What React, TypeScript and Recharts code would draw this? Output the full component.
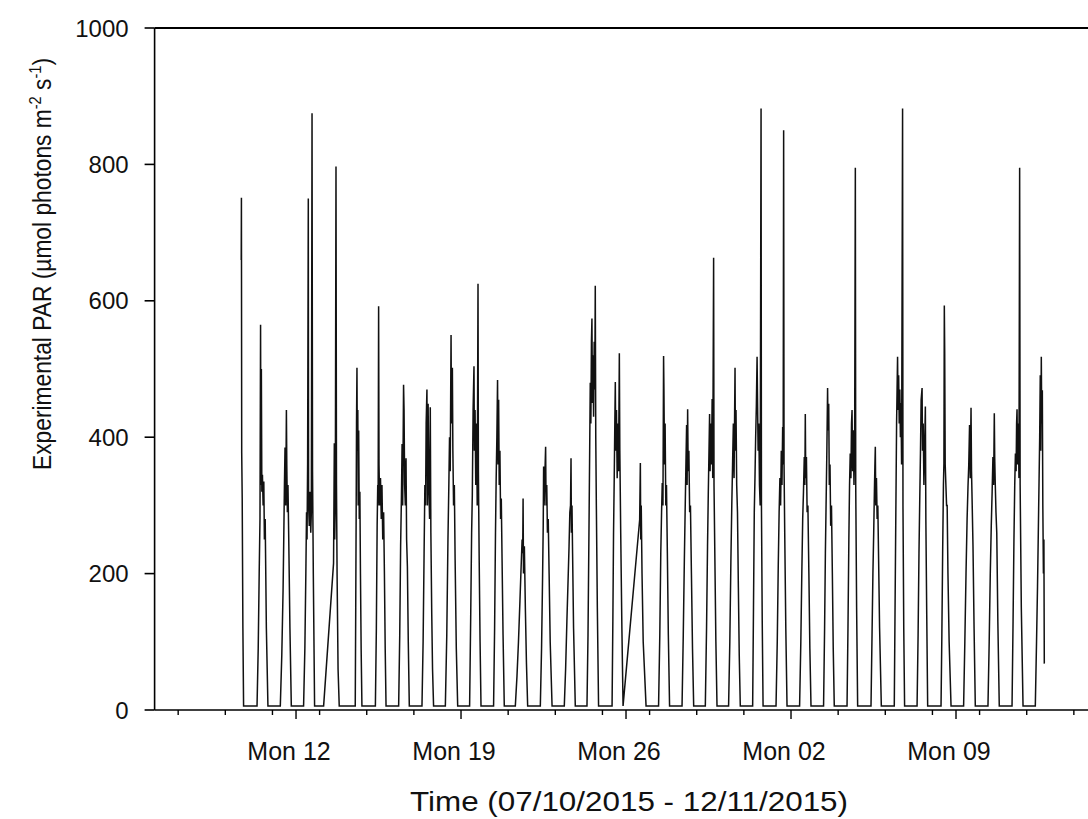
import { LineChart, Line, XAxis, YAxis, ReferenceLine, Label } from "recharts";

// [hour of day (UTC), PAR] readings, one list per day
type Reading = [number, number];

const seriesStart = "2015-10-09";
const axisStart = "2015-10-06T00:00:00Z";
const axisEnd = "2015-11-14T14:24:00Z";

// Oct 09 - Oct 15
const week1: Reading[][] = [
  [[16.2, 660], [16.4, 751], [16.7, 377], [17.2, 311], [17.9, 120], [18.6, 6]],
  [[8.3, 6], [9.5, 90], [10.5, 200], [11.3, 280], [11.9, 565], [12.3, 330], [12.7, 500], [13.2, 320], [13.8, 345], [14.5, 300], [15.2, 335], [15.8, 250], [16.6, 280], [17.8, 120], [19.4, 6]],
  [[8.0, 6], [9.5, 80], [10.8, 175], [11.5, 250], [12.2, 330], [12.8, 385], [13.5, 300], [14.2, 440], [14.6, 360], [15.2, 290], [15.8, 330], [16.6, 250], [17.8, 120], [19.2, 6]],
  [[7.7, 6], [9, 90], [10, 200], [10.7, 290], [11.2, 250], [11.8, 360], [12.5, 750], [12.8, 300], [13.5, 270], [14.2, 320], [15, 260], [15.6, 290], [16.3, 875], [16.8, 350], [17.6, 200], [18.9, 6]],
  [[4.1, 6], [14.2, 215], [14.6, 300], [15.0, 391], [15.4, 250], [16, 300], [16.7, 797], [17.2, 330], [17.8, 200], [18.8, 60], [20.0, 6]],
  [[12.3, 6], [12.8, 150], [13.2, 280], [13.6, 420], [14.05, 502], [14.4, 380], [14.9, 440], [15.3, 300], [15.8, 410], [16.4, 280], [17.0, 320], [17.6, 200], [18.3, 90], [19.1, 6]],
  [[8.8, 6], [9.8, 120], [10.6, 270], [11.2, 330], [11.6, 300], [12.1, 592], [12.5, 360], [13.2, 300], [14, 340], [14.8, 280], [15.5, 330], [16.3, 250], [17.2, 290], [18, 200], [18.8, 90], [19.65, 6]],
];

// Oct 16 - Oct 22
const week2: Reading[][] = [
  [[8.5, 6], [9.6, 110], [10.5, 240], [11.3, 310], [12, 390], [12.6, 300], [13.5, 477], [14, 440], [14.6, 330], [15.3, 300], [16, 369], [16.6, 250], [17.4, 210], [18.3, 100], [19.35, 6]],
  [[8.25, 6], [9.4, 100], [10.4, 230], [11.2, 330], [11.9, 300], [12.5, 420], [13.3, 470], [13.8, 300], [14.5, 449], [15.2, 330], [16, 280], [16.7, 444], [17.3, 260], [18.2, 140], [19, 60], [20.05, 6]],
  [[8.05, 6], [9.5, 110], [10.7, 250], [11.6, 330], [12.3, 400], [13, 350], [13.85, 550], [14.3, 420], [15.2, 502], [15.7, 380], [16.4, 300], [17.2, 330], [18, 220], [19.2, 90], [20.6, 6]],
  [[8.75, 6], [9.8, 130], [10.8, 260], [11.5, 315], [12.3, 440], [13.2, 504], [13.6, 380], [14.3, 440], [15, 330], [15.8, 420], [16.5, 300], [17.3, 625], [17.7, 350], [18.5, 220], [19.4, 100], [20.35, 6]],
  [[9.15, 6], [10.2, 120], [11.1, 260], [11.8, 340], [12.5, 400], [13.2, 484], [13.7, 360], [14.3, 455], [14.9, 330], [15.6, 380], [16.3, 280], [17, 310], [17.8, 220], [18.8, 110], [20.05, 6]],
  [[7.3, 6], [9, 50], [10.5, 100], [12, 160], [13.2, 210], [14.2, 250], [14.8, 230], [15.2, 310], [15.6, 200], [16.5, 240], [17.5, 150], [18.6, 70], [19.85, 6]],
  [[8.75, 6], [10, 90], [11, 190], [11.7, 270], [12.1, 357], [12.6, 300], [13.3, 340], [14.15, 386], [14.6, 300], [15.3, 330], [16, 260], [16.8, 280], [17.7, 200], [18.8, 100], [20.7, 6]],
];

// Oct 23 - Oct 29
const week3: Reading[][] = [
  [[9.15, 6], [10.5, 60], [11.8, 130], [13, 190], [14, 240], [14.8, 290], [15.5, 300], [16, 369], [16.4, 260], [17, 300], [17.6, 230], [18.6, 120], [20.35, 6]],
  [[8.25, 6], [9.3, 110], [10.2, 250], [11, 380], [11.6, 480], [12.2, 420], [12.8, 540], [13.3, 574], [13.8, 450], [14.4, 520], [15, 430], [15.6, 540], [16.2, 470], [16.7, 622], [17.2, 400], [17.8, 300], [18.8, 150], [20.05, 6]],
  [[9.8, 6], [10.6, 130], [11.3, 260], [12, 340], [12.6, 420], [13.1, 481], [13.6, 380], [14.3, 440], [15, 340], [15.7, 420], [16.4, 350], [17.2, 523], [17.7, 380], [18.6, 260], [19.8, 120], [21, 6]],
  [[13.9, 279], [14.6, 362], [15, 250], [15.5, 300], [16.3, 200], [17.5, 100], [20.4, 6]],
  [[9.15, 6], [10.4, 110], [11.4, 230], [12.2, 290], [12.9, 333], [13.6, 300], [14.25, 519], [14.6, 471], [15.2, 360], [15.8, 420], [16.5, 300], [17.2, 330], [18.1, 230], [19.1, 110], [20.35, 6]],
  [[9.05, 6], [10.3, 110], [11.4, 220], [12.3, 300], [13, 360], [13.7, 418], [14.2, 330], [14.75, 441], [15.3, 350], [16, 380], [16.8, 290], [17.6, 300], [18.6, 200], [19.7, 90], [20.9, 6]],
  [[8.75, 6], [10, 120], [11, 240], [11.8, 320], [12.5, 380], [13.1, 434], [13.6, 350], [14.3, 420], [15, 360], [15.7, 456], [16.3, 340], [17.2, 663], [17.6, 330], [18.5, 220], [19.5, 100], [20.65, 6]],
];

// Oct 30 - Nov 05
const week4: Reading[][] = [
  [[8.45, 6], [9.7, 100], [10.8, 220], [11.7, 300], [12.5, 360], [13.3, 420], [14, 340], [15, 502], [15.4, 380], [16, 440], [16.7, 330], [17.5, 290], [18.4, 180], [19.3, 80], [20.35, 6]],
  [[8.95, 6], [9.8, 150], [10.6, 290], [11.3, 340], [12, 400], [12.7, 445], [13.45, 518], [13.8, 470], [14.5, 380], [15.2, 420], [15.9, 330], [16.6, 300], [17.5, 882], [17.9, 300], [18.7, 130], [19.55, 6]],
  [[8.75, 6], [10, 100], [11, 210], [11.9, 290], [12.7, 340], [13.4, 300], [14.1, 380], [14.8, 330], [15.5, 415], [16, 360], [16.5, 850], [16.9, 360], [17.6, 260], [18.7, 120], [19.95, 6]],
  [[8.75, 6], [10, 100], [11, 200], [11.9, 280], [12.7, 320], [13.5, 371], [14.1, 330], [14.55, 434], [15, 340], [15.7, 371], [16.4, 290], [17.2, 300], [18.2, 200], [19.2, 90], [20.35, 6]],
  [[9.15, 6], [10.2, 120], [11, 230], [11.8, 310], [12.5, 380], [13.25, 472], [13.7, 410], [14.4, 449], [15, 330], [15.7, 360], [16.4, 270], [17.2, 300], [18.1, 200], [19, 90], [20.05, 6]],
  [[9.05, 6], [10, 120], [10.9, 250], [11.6, 330], [12.3, 376], [13, 340], [13.6, 420], [14.15, 440], [14.7, 350], [15.4, 410], [16.1, 330], [16.8, 390], [17.5, 795], [17.9, 330], [18.8, 150], [19.85, 6]],
  [[9.45, 6], [10.5, 110], [11.4, 200], [12.2, 260], [12.9, 320], [13.4, 357], [13.85, 386], [14.3, 300], [15, 340], [15.7, 280], [16.4, 300], [17.2, 220], [18.2, 120], [19.95, 6]],
];

// Nov 06 - Nov 12
const week5: Reading[][] = [
  [[9.15, 6], [10, 160], [10.8, 300], [11.5, 420], [12, 470], [12.5, 518], [13, 440], [13.6, 491], [14.2, 420], [14.8, 470], [15.4, 400], [16, 450], [16.6, 360], [17.6, 882], [18, 300], [18.8, 120], [19.65, 6]],
  [[8.35, 6], [9.4, 110], [10.3, 230], [11.1, 310], [11.8, 376], [12.5, 455], [13.45, 472], [13.9, 380], [14.6, 420], [15.3, 330], [16, 380], [16.8, 445], [17.3, 280], [18.2, 140], [19.15, 6]],
  [[8.75, 6], [9.6, 110], [10.4, 230], [11.2, 330], [11.7, 362], [12.1, 593], [12.5, 523], [13, 360], [13.7, 330], [14.4, 300], [15, 300], [15.8, 200], [17, 100], [18.95, 6]],
  [[7.75, 6], [9, 100], [10.2, 200], [11.3, 280], [12.2, 327], [13, 360], [13.8, 418], [14.5, 340], [15.3, 443], [15.8, 350], [16.5, 300], [17.3, 240], [18.4, 120], [19.65, 6]],
  [[8.55, 6], [9.8, 100], [10.9, 200], [11.9, 270], [12.8, 320], [13.6, 371], [14.3, 330], [15, 435], [15.4, 371], [16, 330], [16.7, 290], [17.5, 260], [18.6, 130], [20.05, 6]],
  [[9.05, 6], [10.1, 130], [11, 250], [11.8, 330], [12.5, 376], [13.2, 350], [13.7, 420], [14.15, 441], [14.7, 360], [15.4, 420], [16.1, 340], [16.8, 795], [17.3, 330], [18.5, 150], [20.25, 6]],
  [[8.75, 6], [10, 100], [11, 181], [11.8, 260], [12.5, 330], [13.2, 400], [13.8, 491], [14.3, 380], [14.85, 518], [15.3, 420], [15.9, 469], [16.4, 300], [17, 200], [17.5, 250], [17.9, 68]],
];

const majorTickDates = ["2015-10-12", "2015-10-19", "2015-10-26", "2015-11-02", "2015-11-09"];
const minorTickDates = [
  "2015-10-07", "2015-10-09", "2015-10-11", "2015-10-13", "2015-10-15", "2015-10-17", "2015-10-19",
  "2015-10-21", "2015-10-23", "2015-10-25", "2015-10-27", "2015-10-29", "2015-10-31", "2015-11-02",
  "2015-11-04", "2015-11-06", "2015-11-08", "2015-11-10", "2015-11-12", "2015-11-14",
];
const yTicks = [0, 200, 400, 600, 800, 1000];

const FONT = "'Liberation Sans', Arial, Helvetica, sans-serif";
const DAY = 86400000;
const HOUR = 3600000;
const toMs = (d: string) => Date.parse(d.length === 10 ? d + "T00:00:00Z" : d);

const t0 = toMs(seriesStart);
const data = [week1, week2, week3, week4, week5]
  .flat()
  .flatMap((day, i) => day.map(([h, v]) => ({ t: t0 + i * DAY + h * HOUR, par: v })));

const majors = new Set(majorTickDates.map(toMs));
const xTicks = Array.from(new Set([...majorTickDates, ...minorTickDates].map(toMs))).sort((a, b) => a - b);
const WEEKDAYS = ["Sun", "Mon", "Tue", "Wed", "Thu", "Fri", "Sat"];
const fmtDay = (v: number) => {
  const d = new Date(v);
  return `${WEEKDAYS[d.getUTCDay()]} ${String(d.getUTCDate()).padStart(2, "0")}`;
};

const XTick = (props: any) => {
  const { x, y, payload } = props;
  const major = majors.has(payload.value);
  return (
    <g>
      <line x1={x} y1={y} x2={x} y2={y + (major ? 9 : 5)} stroke="#000" strokeWidth={1.4} />
      {major && (
        <text x={x - 7} y={y + 50} textAnchor="middle" fontSize={25} fontFamily={FONT} fill="#111">
          {fmtDay(payload.value)}
        </text>
      )}
    </g>
  );
};

const YTitle = () => (
  <text
    transform="translate(51,264) rotate(-90)"
    textAnchor="middle"
    fontSize={25}
    fontFamily={FONT}
    fill="#111"
    textLength={412}
    lengthAdjust="spacingAndGlyphs"
  >
    Experimental PAR (µmol photons m
    <tspan dy={-10} fontSize={16}>-2</tspan>
    <tspan dy={10}> s</tspan>
    <tspan dy={-10} fontSize={16}>-1</tspan>
    <tspan dy={10}>)</tspan>
  </text>
);

const XTitle = () => (
  <text x={629} y={811} textAnchor="middle" fontSize={28} fontFamily={FONT} fill="#111" textLength={438} lengthAdjust="spacingAndGlyphs">
    Time (07/10/2015 - 12/11/2015)
  </text>
);

export default function App() {
  return (
    <div>
      <style>{"body{margin:0}"}</style>
      <LineChart width={1088} height={819} data={data} margin={{ top: 28, right: 0, bottom: 0, left: 0 }}>
        <XAxis
          type="number"
          dataKey="t"
          domain={[toMs(axisStart), toMs(axisEnd)]}
          ticks={xTicks}
          interval={0}
          height={109}
          tickSize={0}
          tickMargin={0}
          tickLine={false}
          tick={<XTick />}
          axisLine={{ stroke: "#000", strokeWidth: 1.6 }}
        >
          <Label content={XTitle} />
        </XAxis>
        <YAxis
          type="number"
          domain={[0, 1000]}
          ticks={yTicks}
          interval={0}
          width={154.6}
          tickSize={10}
          tickMargin={16}
          axisLine={{ stroke: "#000", strokeWidth: 1.6 }}
          tickLine={{ stroke: "#000", strokeWidth: 1.6 }}
          tick={{ fontSize: 24, fill: "#111", fontFamily: FONT }}
        >
          <Label content={YTitle} />
        </YAxis>
        <ReferenceLine y={1000} stroke="#000" strokeWidth={2} />
        <Line type="linear" dataKey="par" stroke="#111" strokeWidth={1.5} dot={false} isAnimationActive={false} />
      </LineChart>
    </div>
  );
}
